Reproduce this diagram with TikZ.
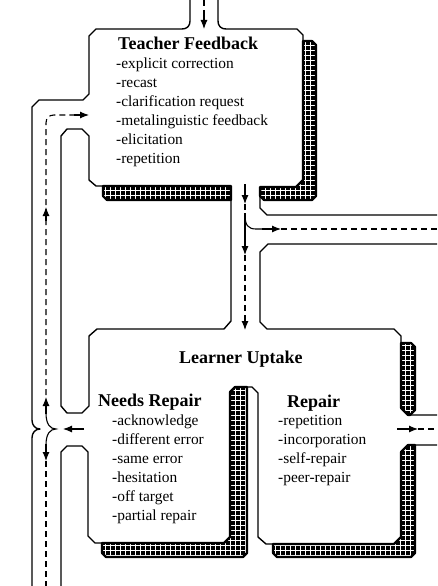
\documentclass[tikz,border=0pt]{standalone}
\usepackage{fontspec}
\setmainfont{Liberation Serif}
\usetikzlibrary{arrows.meta}
\begin{document}
\begin{tikzpicture}[x=1pt,y=-1pt,
  wall/.style={line width=1.4pt, line join=round},
  flow/.style={line width=1.1pt},
  dsh/.style={flow, dash pattern=on 6pt off 4pt},
  arr/.style={flow, -{Latex[length=9pt,width=7pt]}},
  item/.style={anchor=base west, inner sep=0pt, font=\fontsize{15.4}{19}\selectfont},
  head/.style={anchor=base west, inner sep=0pt, font=\fontsize{18}{22}\selectfont\bfseries},
  bandline/.style={line width=2.2pt, line join=round}]
\useasboundingbox (0,0) rectangle (437,586);
\fill[white] (0,0) rectangle (437,586);

% ---------- hatched shadow bands ----------
\def\bandA{(303,41) -- (312,41) -- (316,45) -- (316,196) -- (312,200) -- (264,200) -- (260,196) -- (260,187) -- (296,187) -- (303,180) -- cycle}
\def\bandB{(103,186) -- (231,186) -- (231,200) -- (107,200) -- (103,196) -- cycle}
\def\bandC{(401,343) -- (411,343) -- (415,347) -- (415,410) -- (410,415) -- (408,415) -- (401,408) -- cycle}
\def\bandD{(408,445) -- (415,445) -- (415,553) -- (411,557) -- (277,557) -- (273,553) -- (273,544) -- (394,544) -- (401,537) -- (401,452) -- cycle}
\def\bandE{(230,392) -- (235,387) -- (247,387) -- (247,553) -- (243,557) -- (106,557) -- (102,553) -- (102,543) -- (224,543) -- (230,537) -- cycle}
\begin{scope}
  \clip \bandA \bandB \bandC \bandD \bandE;
  \fill[black] (0,0) rectangle (437,586);
  \foreach \g in {0,5,...,440} \draw[white, line width=0.9pt] (\g,0) -- (\g,586);
  \foreach \g in {0,5,...,590} \draw[white, line width=0.9pt] (0,\g) -- (437,\g);
\end{scope}
\draw[bandline] \bandA \bandB \bandC \bandD \bandE;

% ---------- walls ----------
\draw[wall] (32,586) -- (32,438) .. controls (32,433) and (35,429) .. (40,429)
  .. controls (35,429) and (32,425) .. (32,420) -- (32,107) -- (39,100) -- (83,100)
  -- (89,94) -- (89,36) -- (96,29) -- (182,29) .. controls (187,29) and (190,26) .. (190,21) -- (190,0);
\draw[wall] (218,0) -- (218,21) .. controls (218,26) and (221,29) .. (226,29) -- (297,29)
  -- (303,35) -- (303,180) -- (296,187) -- (266,187) .. controls (262,187) and (260,189) .. (260,193)
  -- (260,208) -- (267,215) -- (437,215);
\draw[wall] (61,136) -- (67,129) -- (82,129) -- (89,136) -- (89,180) -- (96,186) -- (225,186)
  .. controls (229,186) and (231,188) .. (231,192) -- (231,321) -- (224,329) -- (97,329)
  -- (89,336) -- (89,406) -- (82,413) -- (67,413) -- (61,406) -- cycle;
\draw[wall] (437,244) -- (268,244) -- (260,252) -- (260,322) -- (267,329) -- (394,329)
  -- (401,336) -- (401,408) -- (408,415) -- (437,415);
\draw[wall] (437,445) -- (408,445) -- (401,452) -- (401,537) -- (394,544) -- (266,544)
  -- (258,537) -- (258,393) -- (252,387) -- (236,387) -- (230,393) -- (230,537) -- (224,543)
  -- (95,543) -- (88,536) -- (88,452) -- (82,446) -- (67,446) -- (61,452) -- (61,586);

% ---------- flows ----------
% top entry
\draw[dsh] (204,0) -- (204,17);
\draw[arr] (204,15) -- (204,29);
% central
\draw[arr] (245,184) -- (245,204);
\draw[dsh] (245,204) -- (245,214);
\draw[arr] (245,213) -- (245,255);
\draw[flow] (245,215) .. controls (245,225) and (248,229) .. (256,229) -- (266,229);
\draw[arr] (262,229) -- (281,229);
\draw[dsh] (281,229) -- (437,229);
\draw[dsh] (245,255) -- (245,318);
\draw[arr] (245,316) -- (245,330);
% left loop
\draw[dsh] (46,395) -- (46,123) .. controls (46,118) and (49,115) .. (54,115) -- (78,115);
\draw[arr] (74,115) -- (89,115);
\draw[arr] (46,221) -- (46,207);
\draw[arr] (46,414) -- (46,397);
\draw[flow] (46,413) .. controls (46,424) and (50,429) .. (56,429)
  .. controls (50,429) and (46,434) .. (46,445) -- (46,452);
\draw[arr] (46,444) -- (46,461);
\draw[dsh] (46,461) -- (46,586);
\draw[arr] (84,429) -- (63,429);
% right exit
\draw[arr] (397,429) -- (418,429);
\draw[dsh] (418,429) -- (437,429);

% ---------- texts ----------
\node[head] (tfh) at (118,49) {Teacher Feedback};
\node[item] (tf1) at (116,68) {-explicit correction};
\node[item] (tf2) at (116,87) {-recast};
\node[item] (tf3) at (116,106) {-clarification request};
\node[item] (tf4) at (116,125) {-metalinguistic feedback};
\node[item] (tf5) at (116,144) {-elicitation};
\node[item] (tf6) at (116,163) {-repetition};

\node[head] (luh) at (179,363) {Learner Uptake};

\node[head] (nrh) at (98,406) {Needs Repair};
\node[item] (nr1) at (112,425) {-acknowledge};
\node[item] (nr2) at (112,444) {-different error};
\node[item] (nr3) at (112,463) {-same error};
\node[item] (nr4) at (112,482) {-hesitation};
\node[item] (nr5) at (112,501) {-off target};
\node[item] (nr6) at (112,520) {-partial repair};

\node[head] (rph) at (287,407) {Repair};
\node[item] (rp1) at (278,425) {-repetition};
\node[item] (rp2) at (278,444) {-incorporation};
\node[item] (rp3) at (278,463) {-self-repair};
\node[item] (rp4) at (278,482) {-peer-repair};
\end{tikzpicture}
\end{document}
